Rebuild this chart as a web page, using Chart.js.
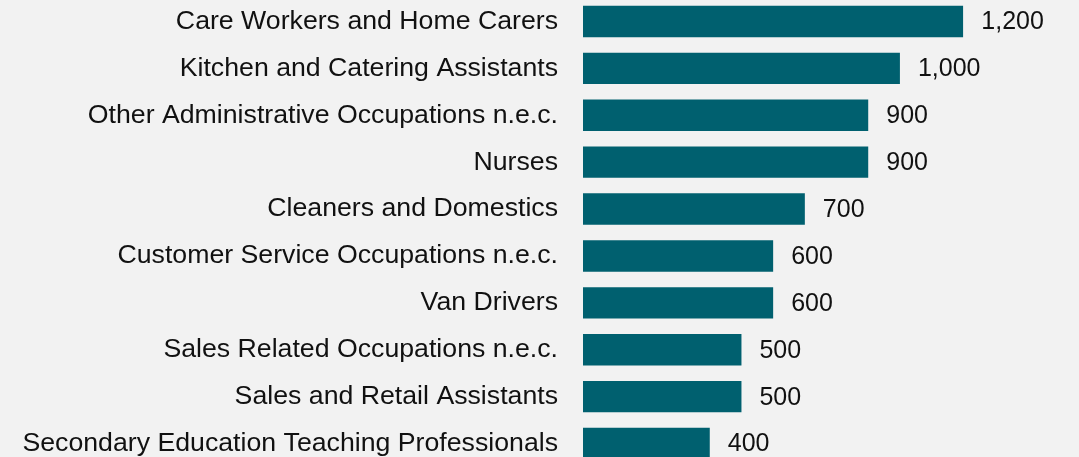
<!DOCTYPE html>
<html>
<head>
<meta charset="utf-8">
<script src="https://cdn.jsdelivr.net/npm/chart.js@4.4.1/dist/chart.umd.min.js"></script>
<style>
  html, body { margin: 0; padding: 0; background: #f2f2f2; overflow: hidden; width: 1079px; height: 457px; }
  #wrap { position: absolute; left: 0; top: -2.5px; width: 1079px; height: 469px; }
</style>
</head>
<body>
<div id="wrap"><canvas id="c"></canvas></div>
<script>
const categories = [
  "Care Workers and Home Carers",
  "Kitchen and Catering Assistants",
  "Other Administrative Occupations n.e.c.",
  "Nurses",
  "Cleaners and Domestics",
  "Customer Service Occupations n.e.c.",
  "Van Drivers",
  "Sales Related Occupations n.e.c.",
  "Sales and Retail Assistants",
  "Secondary Education Teaching Professionals"
];
const values = [1200, 1000, 900, 900, 700, 600, 600, 500, 500, 400];

const FONT = '"Liberation Sans", Arial, Helvetica, sans-serif';
const TEXT = '#111111';

const valueLabels = {
  id: 'valueLabels',
  afterDatasetsDraw(chart) {
    const ctx = chart.ctx;
    const meta = chart.getDatasetMeta(0);
    ctx.save();
    ctx.font = '25px ' + FONT;
    ctx.fillStyle = TEXT;
    ctx.textAlign = 'left';
    ctx.textBaseline = 'middle';
    meta.data.forEach((bar, i) => {
      ctx.fillText(values[i].toLocaleString('en-US'), bar.x + 18, bar.y + 1);
    });
    ctx.restore();
  }
};

new Chart(document.getElementById('c'), {
  type: 'bar',
  data: {
    labels: categories,
    datasets: [{
      data: values,
      backgroundColor: '#00606f',
      borderWidth: 0,
      barPercentage: 0.67,
      categoryPercentage: 1.0
    }]
  },
  options: {
    indexAxis: 'y',
    responsive: true,
    maintainAspectRatio: false,
    animation: false,
    layout: { padding: { left: 0, right: 115.7, top: 0, bottom: 0 } },
    plugins: { legend: { display: false }, tooltip: { enabled: false } },
    scales: {
      x: { display: false, min: 0, max: 1200 },
      y: {
        grid: { display: false, drawTicks: false },
        border: { display: false },
        ticks: {
          color: TEXT,
          font: { family: FONT, size: 26.7 },
          padding: 25,
          autoSkip: false
        },
        afterFit(scale) {
          scale.width = 583;
          scale.paddingTop = 0;
          scale.paddingBottom = 0;
        }
      }
    }
  },
  plugins: [valueLabels]
});
</script>
</body>
</html>
